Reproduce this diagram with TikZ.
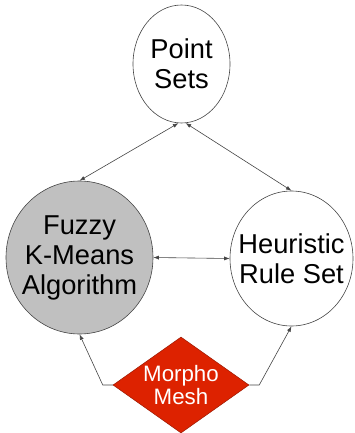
\documentclass[tikz,border=0pt]{standalone}
\usepackage{fontspec}
\setmainfont{Liberation Sans}
\usetikzlibrary{shapes.geometric,arrows.meta}
\definecolor{meshred}{HTML}{DD2200}
\definecolor{algogray}{HTML}{C0C0C0}
\definecolor{edgegray}{HTML}{444444}
\tikzset{
  % negative inner sep so the outline size is fixed by the minimum sizes alone
  blob/.style={ellipse, draw=edgegray, line width=0.6pt, inner sep=-35pt, align=center,
    font=\fontsize{27.3}{30}\selectfont},
  meshbox/.style={diamond, fill=meshred, draw=meshred!70!black, line width=0.5pt, inner sep=-10pt,
    aspect=1.42, minimum width=136pt, minimum height=96pt, align=center, text=white,
    font=\fontsize{22.3}{23}\selectfont},
  link/.style={draw=edgegray, line width=0.6pt},
  twoway/.style={link, {Latex[length=5.5pt,width=4pt]}-{Latex[length=5.5pt,width=4pt]}},
  oneway/.style={link, -{Latex[length=5.5pt,width=4pt]}}
}
\begin{document}
\begin{tikzpicture}[x=1pt,y=-1pt]
  \useasboundingbox (0,0) rectangle (354,433);
  % data sources and processing stages
  \node[blob, minimum width=97pt, minimum height=118pt] (ps) at (181.5,64) {Point\\Sets};
  \node[blob, fill=algogray, minimum width=147pt, minimum height=153pt] (fz) at (79.5,257.5)
    {Fuzzy\\K-Means\\Algorithm};
  \node[blob, minimum width=123pt, minimum height=135pt] (hr) at (291.5,258.5) {Heuristic\\Rule Set};
  \node[meshbox] (mm) at (181,385) {Morpho\\Mesh};
  % connectors
  \draw[twoway] (ps.-93) -- (fz.north);
  \draw[twoway] (ps.-86) -- (hr.north);
  \draw[twoway] (fz.east) -- (hr.west);
  \coordinate (ml) at ([xshift=-10pt]mm.west);
  \coordinate (mr) at ([xshift=10pt]mm.east);
  \draw[oneway] (mm.west) -- (ml) -- (fz.south);
  \draw[oneway] (mm.east) -- (mr) -- (hr.south);
\end{tikzpicture}
\end{document}
